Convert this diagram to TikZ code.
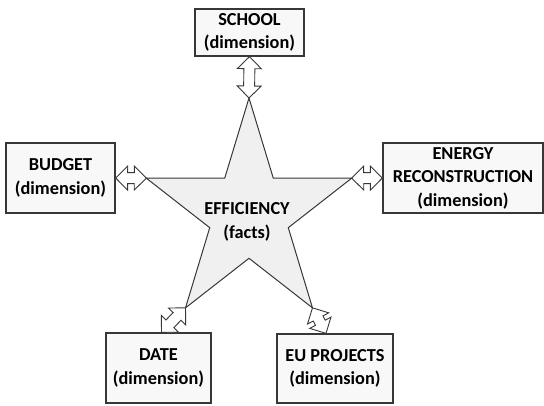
\documentclass[tikz,border=0pt]{standalone}
\usepackage{fontspec}
\setmainfont{Carlito}
\usetikzlibrary{positioning,calc}
\definecolor{edgegrey}{RGB}{55,55,55}
\definecolor{boxfill}{RGB}{248,248,248}
\definecolor{starfill}{RGB}{240,240,240}

\begin{document}
\begin{tikzpicture}[x=1pt,y=-1pt,
    dim/.style={draw=edgegrey,line width=1.3pt,fill=boxfill,align=center,
      inner sep=0pt,font=\fontsize{18.3}{23.5}\selectfont\bfseries},
    link/.style={draw=edgegrey,line width=0.9pt,fill=white,line join=miter}]
  \useasboundingbox (0,0) rectangle (544,405);
  % dimension tables
  \node[dim,minimum width=109pt,minimum height=47pt] (school) at (249.5,32.5) {SCHOOL\\(dimension)};
  \node[dim,minimum width=109pt,minimum height=70pt] (budget) at (60.5,178) {BUDGET\\(dimension)};
  \node[dim,minimum width=160pt,minimum height=70pt] (energy) at (463,178) {ENERGY\\RECONSTRUCTION\\(dimension)};
  \node[dim,minimum width=105pt,minimum height=70pt] (date) at (158.5,368) {DATE\\(dimension)};
  \node[dim,minimum width=116pt,minimum height=69pt] (eu) at (335,368.5) {EU PROJECTS\\(dimension)};
  % fact table: five-pointed star
  \foreach \k in {0,...,4}{
    \coordinate (p\k) at ({249+108*cos(90+72*\k)},{214-116*sin(90+72*\k)});
    \coordinate (q\k) at ({249+41.3*cos(126+72*\k)},{214-44.3*sin(126+72*\k)});
  }
  \draw[edgegrey,line width=1pt,fill=starfill]
    (p0)--(q0)--(p1)--(q1)--(p2)--(q2)--(p3)--(q3)--(p4)--(q4)--cycle;
  \node[align=center,font=\fontsize{18.3}{23.5}\selectfont\bfseries] (facts) at (247,222) {EFFICIENCY\\(facts)};
  % links between star and tables
  \coordinate (dt) at ([xshift=3pt]date.north);
  \coordinate (eut) at ([xshift=-9pt]eu.north);
  \foreach \a/\b in {p0/school.south,p1/budget.east,p4/energy.west,p2/dt,p3/eut}
    \draw[link] let \p1=($(\b)-(\a)$), \n1={veclen(\x1,\y1)}, \n2={atan2(\y1,\x1)} in
      [shift={(\a)},rotate=\n2]
      (0,0) -- (12,12) -- (12,5.5) -- (\n1-12,5.5) -- (\n1-12,12) -- (\n1,0)
      -- (\n1-12,-12) -- (\n1-12,-5.5) -- (12,-5.5) -- (12,-12) -- cycle;
\end{tikzpicture}
\end{document}
